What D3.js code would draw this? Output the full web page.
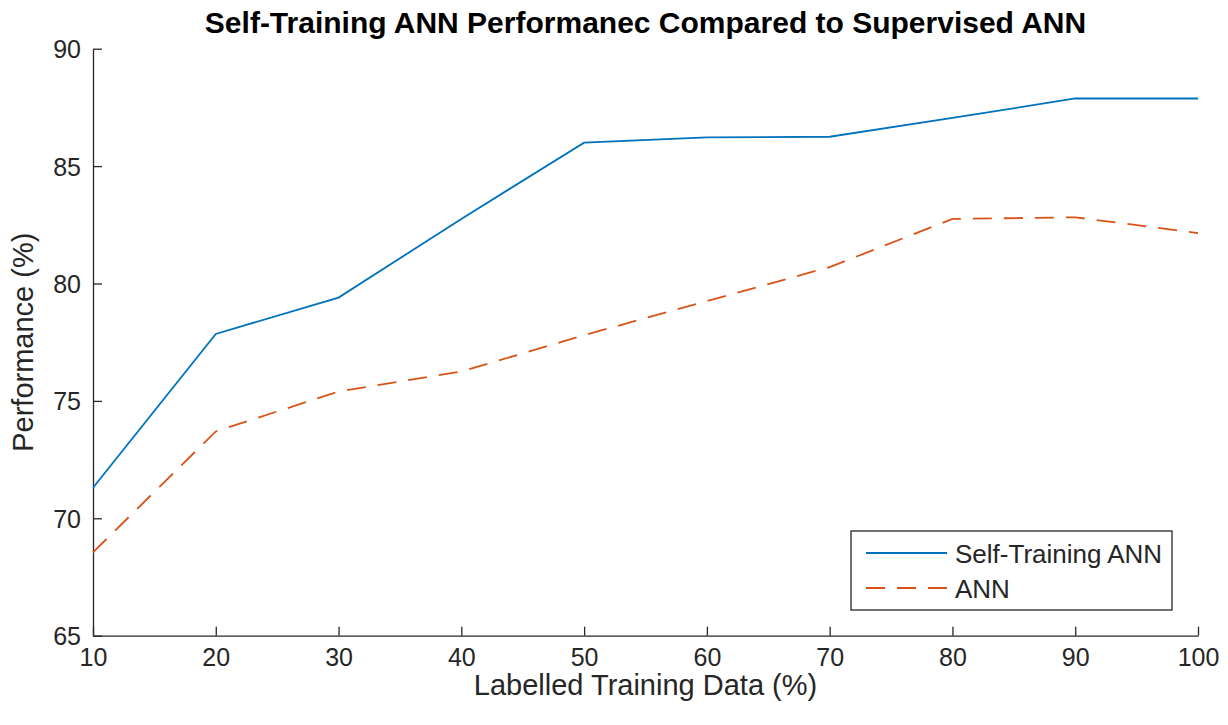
<!DOCTYPE html>
<html>
<head>
<meta charset="utf-8">
<script src="https://cdn.jsdelivr.net/npm/d3@7"></script>
<style>
  body { margin: 0; background: #fff; }
  svg { display: block; font-family: "Liberation Sans", Arial, sans-serif; }
</style>
</head>
<body>
<svg id="svg" width="1228" height="725"></svg>
<script>
// data
const labelled = [10, 20, 30, 40, 50, 60, 70, 80, 90, 100];
const selfTraining = [71.3, 77.85, 79.4, 82.75, 86.0, 86.22, 86.25, 87.05, 87.88, 87.88];
const ann = [68.55, 73.7, 75.4, 76.25, 77.8, 79.25, 80.7, 82.75, 82.82, 82.15];
const xTicks = [10, 20, 30, 40, 50, 60, 70, 80, 90, 100];
const yTicks = [65, 70, 75, 80, 85, 90];

const svg = d3.select("#svg");
const axisColor = "#262626";
const plotLeft = 93, plotRight = 1198, plotTop = 48.7, plotBottom = 635.7;

const x = d3.scaleLinear().domain([10, 100]).range([plotLeft, plotRight]);
const y = d3.scaleLinear().domain([65, 90]).range([plotBottom, plotTop]);

// axes, ticks pointing inward like matlab
const xAxis = svg.append("g")
  .attr("transform", `translate(0,${plotBottom})`)
  .call(d3.axisBottom(x).tickValues(xTicks).tickSizeInner(-9).tickSizeOuter(0).tickPadding(13));
const yAxis = svg.append("g")
  .attr("transform", `translate(${plotLeft},0)`)
  .call(d3.axisLeft(y).tickValues(yTicks).tickSizeInner(-9).tickSizeOuter(0).tickPadding(12));

[xAxis, yAxis].forEach(a => {
  a.select(".domain").attr("stroke", axisColor).attr("stroke-width", 1.3);
  a.selectAll(".tick line").attr("stroke", axisColor).attr("stroke-width", 1.3);
  a.selectAll(".tick text")
    .attr("fill", axisColor)
    .attr("font-size", 25)
    .attr("font-family", "Liberation Sans, Arial, sans-serif");
});
yAxis.selectAll(".tick text").attr("dy", "0.36em");

const line = d3.line().x(d => x(d[0])).y(d => y(d[1]));

svg.append("path")
  .datum(labelled.map((v, i) => [v, selfTraining[i]]))
  .attr("fill", "none")
  .attr("stroke", "#0072BD")
  .attr("stroke-width", 1.8)
  .attr("d", line);

svg.append("path")
  .datum(labelled.map((v, i) => [v, ann[i]]))
  .attr("fill", "none")
  .attr("stroke", "#D95319")
  .attr("stroke-width", 1.8)
  .attr("stroke-dasharray", "19,12")
  .attr("d", line);

// title and axis labels
svg.append("text")
  .attr("x", (plotLeft + plotRight) / 2)
  .attr("y", 33)
  .attr("text-anchor", "middle")
  .attr("font-size", 30)
  .attr("font-weight", "bold")
  .attr("fill", "#000")
  .text("Self-Training ANN Performanec Compared to Supervised ANN");

svg.append("text")
  .attr("x", (plotLeft + plotRight) / 2)
  .attr("y", 695)
  .attr("text-anchor", "middle")
  .attr("font-size", 29)
  .attr("fill", axisColor)
  .text("Labelled Training Data (%)");

svg.append("text")
  .attr("transform", `translate(33,${(plotTop + plotBottom) / 2}) rotate(-90)`)
  .attr("text-anchor", "middle")
  .attr("font-size", 29)
  .attr("fill", axisColor)
  .text("Performance (%)");

// legend
const legend = svg.append("g");
legend.append("rect")
  .attr("x", 851).attr("y", 531)
  .attr("width", 321).attr("height", 79)
  .attr("fill", "#fff")
  .attr("stroke", axisColor)
  .attr("stroke-width", 1.3);

const items = [
  { name: "Self-Training ANN", color: "#0072BD", dash: null, y: 553 },
  { name: "ANN", color: "#D95319", dash: "19,12", y: 588 }
];
items.forEach(it => {
  legend.append("line")
    .attr("x1", 866).attr("x2", 947)
    .attr("y1", it.y).attr("y2", it.y)
    .attr("stroke", it.color)
    .attr("stroke-width", 1.8)
    .attr("stroke-dasharray", it.dash);
  legend.append("text")
    .attr("x", 955).attr("y", it.y + 10)
    .attr("font-size", 26)
    .attr("fill", axisColor)
    .text(it.name);
});
</script>
</body>
</html>
